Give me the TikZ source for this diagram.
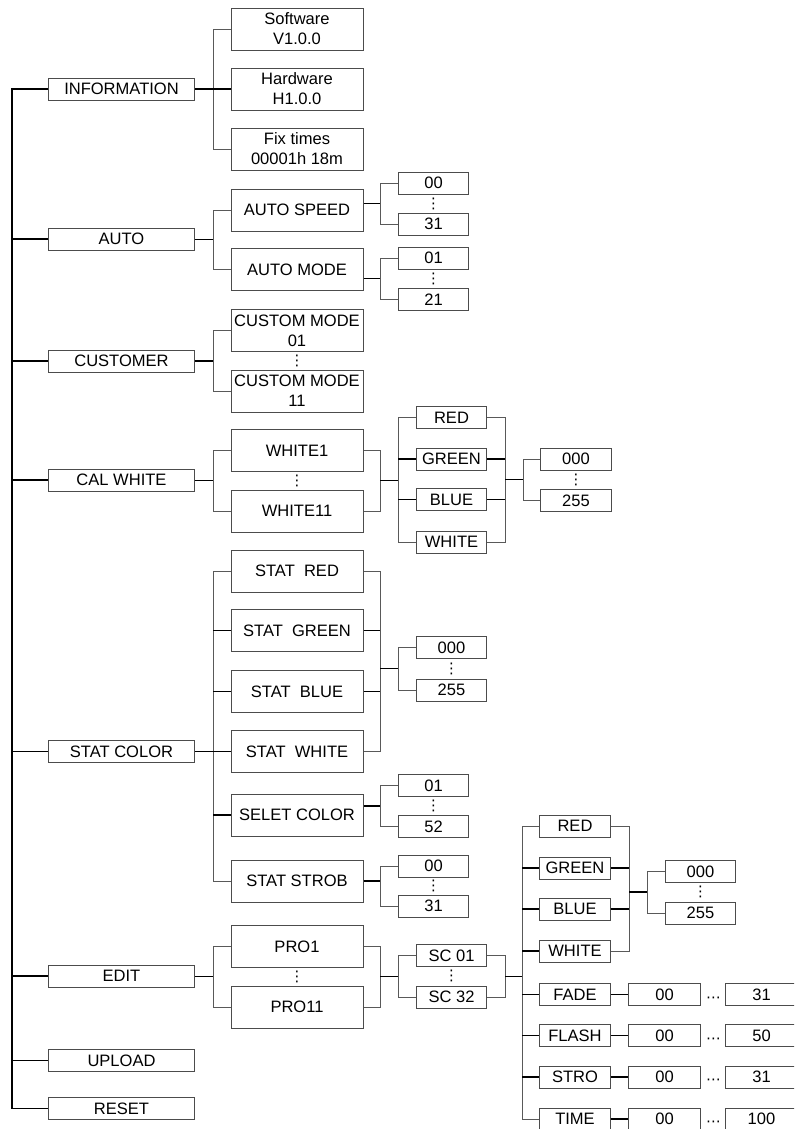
\documentclass[tikz,border=0pt]{standalone}
\usepackage{fontspec}
\setmainfont{Liberation Sans}
\newfontfamily\symfont{DejaVu Sans}
\usepackage{tikz}

\tikzset{
  box/.style={draw=black!70, line width=0.75pt, inner sep=1pt,
              align=center, font=\fontsize{12.4}{15}\selectfont},
  mainbox/.style={box, minimum width=110pt, minimum height=16.5pt},
  bigbox/.style={box, minimum width=99pt, minimum height=31.5pt},
  smallbox/.style={box, minimum width=53pt, minimum height=16.5pt},
  rowbox/.style={box, minimum width=54pt, minimum height=16.5pt},
  dotnode/.style={inner sep=0pt, font=\symfont\fontsize{11}{11}\selectfont},
  spine/.style={line width=1.1pt, black},
  stub/.style={line width=1.1pt, black},
  elbow/.style={line width=0.7pt, black!65}
}

\begin{document}
\begin{tikzpicture}[x=0.75pt, y=-0.75pt]
  \useasboundingbox (0,0) rectangle (794,1129);
  \clip (0,0) rectangle (794,1129);

  % main menu
  \foreach \n/\y/\t in {info/89/INFORMATION, auto/239/AUTO,
      cust/361/CUSTOMER, calw/480/CAL WHITE, stat/751.5/STAT COLOR,
      edit/976/EDIT, upld/1060.5/UPLOAD, rset/1108.5/RESET} {
    \node[mainbox] (\n) at (121.5,\y) {\t};
  }

  % second level
  \foreach \n/\y/\t in {soft/29/{Software\\V1.0.0}, hard/89/{Hardware\\H1.0.0},
      fix/149/{Fix times\\00001h 18m}, aspd/210/AUTO SPEED,
      amod/269.5/AUTO MODE, cm01/330.5/{CUSTOM MODE\\01},
      cm11/391/{CUSTOM MODE\\11}, w1/450.5/WHITE1, w11/511/WHITE11,
      sred/571/STAT~~RED, sgrn/630.5/STAT~~GREEN, sblu/691.5/STAT~~BLUE,
      swht/751.5/STAT~~WHITE, ssel/815/SELET COLOR, sstb/881/STAT STROB,
      pro1/946.5/PRO1, pro11/1007/PRO11} {
    \node[bigbox] (\n) at (297,\y) {\t};
  }

  % small boxes
  \foreach \n/\x/\y/\t in {a00/433.5/183/00, a31/433.5/224/31,
      m01/433.5/258/01, m21/433.5/299.5/21,
      cred/451.5/417.5/RED, cgrn/451.5/459/GREEN, cblu/451.5/499.5/BLUE,
      cwht/451.5/542/WHITE, c000/576/459/000, c255/576/500.5/255,
      s000/451.5/647.5/000, s255/451.5/690/255,
      e01/433.5/785.5/01, e52/433.5/826.5/52,
      t00/433.5/866/00, t31/433.5/906/31,
      sc01/451.5/955.5/SC 01, sc32/451.5/997/SC 32,
      ered/575/826/RED, egrn/575/868/GREEN, eblu/575/909/BLUE,
      ewht/575/951/WHITE, fade/575/994.5/FADE, flsh/575/1035.5/FLASH,
      stro/575/1077/STRO, time/575/1119/TIME,
      e000/700.5/871.5/000, e255/700.5/913/255} {
    \node[smallbox] (\n) at (\x,\y) {\t};
  }

  % value rows
  \foreach \n/\m/\y/\t in {fade/f/994.5/31, flsh/l/1035.5/50,
      stro/r/1077/31, time/m/1119/100} {
    \node[rowbox] (\m00) at (664.5,\y) {00};
    \node[rowbox] (\m99) at (761.5,\y) {\t};
    \node[dotnode] (\m dt) at (713.5,\y+5) {⋯};
  }

  % vertical dots
  \foreach \n/\x/\y in {da/433.5/203.5, dm/433.5/278.75, dc/297/361,
      dw/297/481, dv/576/479.75, ds/451.5/668.75, de/433.5/806,
      dt/433.5/886, dp/297/976.75, dq/451.5/976.25, dx/700.5/892} {
    \node[dotnode] (\n) at (\x,\y) {⋮};
  }

  % forks and joins
  \coordinate (sp) at (12,0);
  \foreach \n/\x/\y in {fI/213/89, fA/213/239.5, fC/213/361, fW/213/480.5,
      fS/213/751.5, fE/213/976.5, fa1/380/203.5, fa2/380/278.75,
      fs1/380/806, fs2/380/881, jW/380/480.5, fW2/398/480.5,
      jC/505/479.75, fW3/523/479.75, jS/380/668.75, fS2/398/668.75,
      jP/380/976.75, fP/398/976.75, jQ/505/976.25, fQ/522/976.25,
      jE/629/892, fE2/647/892} {
    \coordinate (\n) at (\x,\y);
  }

  % spine
  \draw[spine] (info.west) -- (info.west -| sp) -- (rset.west -| sp) -- (rset.west);
  \foreach \m in {auto, cust, calw, stat, edit, upld} {
    \draw[spine] (\m.west) -- (\m.west -| sp);
  }

  % outer branches
  \foreach \f/\c in {fI/soft, fI/fix, fA/aspd, fA/amod, fC/cm01, fC/cm11,
      fW/w1, fW/w11, fS/sred, fS/sstb, fE/pro1, fE/pro11,
      fa1/a00, fa1/a31, fa2/m01, fa2/m21, fs1/e01, fs1/e52,
      fs2/t00, fs2/t31, fW2/cred, fW2/cwht, fW3/c000, fW3/c255,
      fS2/s000, fS2/s255, fP/sc01, fP/sc32, fQ/ered, fQ/time,
      fE2/e000, fE2/e255} {
    \draw[elbow] (\f) |- (\c.west);
  }
  \foreach \f/\c in {fI/hard, fS/sgrn, fS/sblu, fS/swht, fS/ssel,
      fW2/cgrn, fW2/cblu, fQ/egrn, fQ/eblu, fQ/ewht, fQ/fade,
      fQ/flsh, fQ/stro} {
    \draw[stub] (\c.west -| \f) -- (\c.west);
  }

  % merging brackets
  \foreach \c/\j in {w1/jW, w11/jW, cred/jC, cwht/jC, sred/jS, swht/jS,
      pro1/jP, pro11/jP, sc01/jQ, sc32/jQ, ered/jE, ewht/jE} {
    \draw[elbow] (\c.east) -| (\j);
  }
  \foreach \c/\j in {cgrn/jC, cblu/jC, sgrn/jS, sblu/jS, egrn/jE, eblu/jE} {
    \draw[stub] (\c.east) -- (\c.east -| \j);
  }

  % stubs into forks
  \foreach \p/\f in {info/fI, auto/fA, cust/fC, calw/fW, stat/fS, edit/fE,
      aspd/fa1, amod/fa2, ssel/fs1, sstb/fs2} {
    \draw[stub] (\p.east |- \f) -- (\f);
  }
  \foreach \j/\f in {jW/fW2, jC/fW3, jS/fS2, jP/fP, jQ/fQ, jE/fE2} {
    \draw[stub] (\j) -- (\f);
  }
  \foreach \a/\b in {fade/f00, flsh/l00, stro/r00, time/m00} {
    \draw[stub] (\a.east) -- (\b.west);
  }
\end{tikzpicture}
\end{document}
